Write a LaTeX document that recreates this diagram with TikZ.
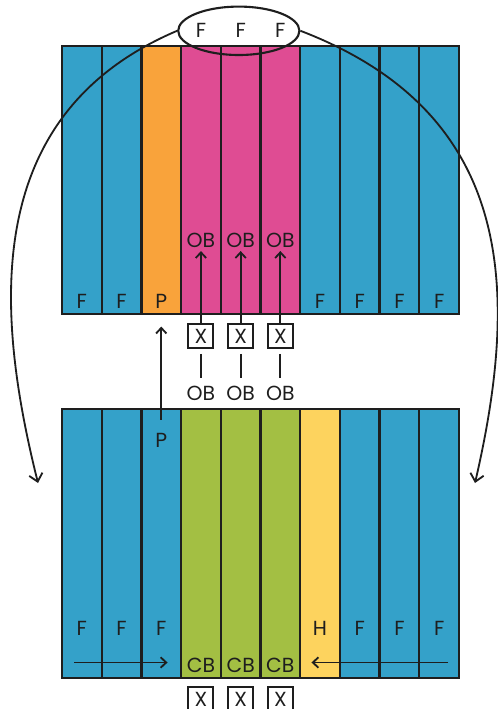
\documentclass[tikz,border=0pt]{standalone}
\usepackage{fontspec}
\setmainfont{Poppins}
\usepackage{tikz}
\usetikzlibrary{shapes.geometric, arrows.meta, calc}
\usepackage{xcolor}
\definecolor{laneblue}{HTML}{34A1C9}
\definecolor{laneorange}{HTML}{F9A33B}
\definecolor{lanepink}{HTML}{DF4C93}
\definecolor{lanegreen}{HTML}{A3BF43}
\definecolor{laneyellow}{HTML}{FDD35E}
\definecolor{laneink}{HTML}{1E1E1E}

\begin{document}
\begin{tikzpicture}[x=0.025cm, y=-0.025cm,
  lane/.style={draw=laneink, line width=1.6pt, minimum width=0.9925cm,
    minimum height=6.71cm, inner sep=0pt},
  lbl/.style={font=\fontsize{14.5}{17}\selectfont, text=laneink, inner sep=2pt},
  xbox/.style={lbl, draw=laneink, line width=1.4pt, minimum width=0.625cm,
    minimum height=0.58cm, inner sep=0pt},
  flow/.style={laneink, line width=1.3pt, -{Straight Barb[length=1.4mm, width=2.6mm]}},
  tie/.style={laneink, line width=1.3pt, shorten <=0.13cm, shorten >=0.12cm},
  swing/.style={laneink, line width=1.3pt, -{Straight Barb[length=1.9mm, width=3.4mm]}}
]
  \useasboundingbox (0,0) rectangle (498,709);

  % Upper row of lanes
  \foreach \i/\c in {0/laneblue, 1/laneblue, 2/laneorange, 3/lanepink, 4/lanepink,
    5/lanepink, 6/laneblue, 7/laneblue, 8/laneblue, 9/laneblue}
    \node[lane, fill=\c] (t\i) at ({81.85+39.7*\i},180) {};

  % Lower row of lanes
  \foreach \i/\c in {0/laneblue, 1/laneblue, 2/laneblue, 3/lanegreen, 4/lanegreen,
    5/lanegreen, 6/laneyellow, 7/laneblue, 8/laneblue, 9/laneblue}
    \node[lane, fill=\c] (b\i) at ({81.85+39.7*\i},543.5) {};

  % Upper labels
  \foreach \i/\t in {0/F, 1/F, 2/P, 6/F, 7/F, 8/F, 9/F}
    \node[lbl] (tf\i) at ({81.85+39.7*\i},301.5) {\t};
  \foreach \i in {3,4,5} {
    \node[lbl] (ob\i) at ({81.85+39.7*\i},240.7) {OB};
    \node[xbox] (tx\i) at ({81.85+39.7*\i},336) {X};
    \node[lbl] (lob\i) at ({81.85+39.7*\i},393.3) {OB};
    \draw[flow] (tx\i) -- (ob\i);
    \draw[tie] (tx\i) -- (lob\i);
  }

  % Lower labels
  \node[lbl] (bp) at (161.25,440) {P};
  \foreach \i/\t in {0/F, 1/F, 2/F, 6/H, 7/F, 8/F, 9/F}
    \node[lbl] (bf\i) at ({81.85+39.7*\i},628.3) {\t};
  \foreach \i in {3,4,5} {
    \node[lbl] (cb\i) at ({81.85+39.7*\i},665) {CB};
    \node[xbox] (bx\i) at ({81.85+39.7*\i},699) {X};
  }

  % Arrows inside and between the rows
  \draw[flow, shorten <=0.25cm, shorten >=0.28cm] (bp) -- (t2.south);
  \coordinate (lin) at (74,662.5);
  \coordinate (rin) at (448,662.5);
  \draw[flow, shorten >=0.31cm] (lin) -- (lin -| b3.west);
  \draw[flow, shorten >=0.31cm] (rin) -- (rin -| b6.west);

  % Ellipse on top with its swing arrows
  \node[draw=laneink, line width=1.5pt, ellipse, minimum width=3.03cm,
    minimum height=1.21cm, inner sep=0pt] (fan) at (238.8,30.8) {};
  \foreach \i in {3,4,5}
    \node[lbl] (ef\i) at ({81.85+39.7*\i},30.8) {F};
  \coordinate (lend) at (38,483);
  \coordinate (rend) at (475,483);
  \draw[swing] (fan.west) to[out=203, in=104, out looseness=1.16, in looseness=0.95] (lend);
  \draw[swing] (fan.east) to[out=-21, in=77, out looseness=1.21, in looseness=1.05] (rend);
\end{tikzpicture}
\end{document}
